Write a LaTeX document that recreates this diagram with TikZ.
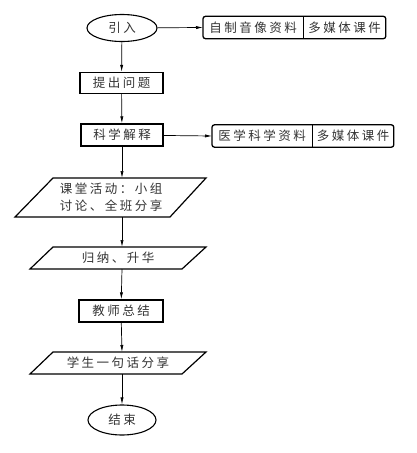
\documentclass[tikz,border=0pt]{standalone}
\usepackage{fontspec}
\newfontfamily\cjk[LetterSpace=20]{Noto Sans CJK SC}
\usetikzlibrary{arrows.meta,shapes.geometric}
\begin{document}
\begin{tikzpicture}[x=1pt,y=-1pt,
  every node/.style={font=\cjk\fontsize{12.5}{17}\selectfont, text=black!80, inner sep=0pt},
  procbox/.style={draw, line width=1.4pt, minimum height=21pt, text=black!80},
  termbox/.style={draw, ellipse, line width=1.1pt},
  parabox/.style={draw, line width=1.2pt, line join=miter},
  resbox/.style={minimum height=22pt, inner sep=0pt},
  link/.style={line width=0.7pt, -{Latex[length=7pt,width=3.2pt]}}]
\useasboundingbox (0,0) rectangle (416,453);

% start
\node[termbox, minimum width=70pt, minimum height=27pt] (start) at (122,28) {引入};

% resource 1
\node[resbox, minimum width=100pt, anchor=west] (r1a) at (203,27.5) {自制音像资料};
\node[resbox, minimum width=82pt, anchor=west] (r1b) at (r1a.east) {多媒体课件};
\draw[line width=1.3pt, rounded corners=2.5pt] (r1a.north west) rectangle (r1b.south east);
\draw[line width=0.8pt] (r1a.north east) -- (r1a.south east);

% question
\node[procbox, minimum width=83pt] (q1) at (121.5,83) {提出问题};

% science explanation
\node[procbox, minimum width=82pt, minimum height=22pt] (sci) at (122,135) {科学解释};

% resource 2
\node[resbox, minimum width=100pt, anchor=west] (r2a) at (212,136) {医学科学资料};
\node[resbox, minimum width=81pt, anchor=west] (r2b) at (r2a.east) {多媒体课件};
\draw[line width=1.3pt, rounded corners=2.5pt] (r2a.north west) rectangle (r2b.south east);
\draw[line width=0.8pt] (r2a.north east) -- (r2a.south east);

% activity parallelogram
\draw[parabox] (53,178) -- (206,178) -- (170,217) -- (15,217) -- cycle;
\node[align=center] (act) at (111,197.5) {课堂活动：小组\\讨论、全班分享};
\coordinate (actT) at (122,178);
\coordinate (actB) at (122,217);

% summary parallelogram
\draw[parabox] (53,247) -- (206,247) -- (182,269) -- (30,269) -- cycle;
\node (sum) at (118,258) {归纳、升华};
\coordinate (sumT) at (122,247);
\coordinate (sumB) at (122,269);

% teacher
\node[procbox, minimum width=84pt, minimum height=22pt] (tch) at (121,311) {教师总结};

% share parallelogram
\draw[parabox] (53,352) -- (206,352) -- (182,374) -- (30,374) -- cycle;
\node (shr) at (118,363) {学生一句话分享};
\coordinate (shrT) at (122,352);
\coordinate (shrB) at (122,374);

% end
\node[termbox, minimum width=68pt, minimum height=30pt] (end) at (122,420) {结束};

% connectors
\draw[link] (start) -- (q1);
\draw[link] (q1) -- (sci);
\draw[link] (sci) -- (actT);
\draw[link] (actB) -- (sumT);
\draw[link] (sumB) -- (tch);
\draw[link] (tch) -- (shrT);
\draw[link] (shrB) -- (end);
\draw[link] (start) -- (r1a.west);
\draw[link] (sci) -- (r2a.west);
\end{tikzpicture}
\end{document}
